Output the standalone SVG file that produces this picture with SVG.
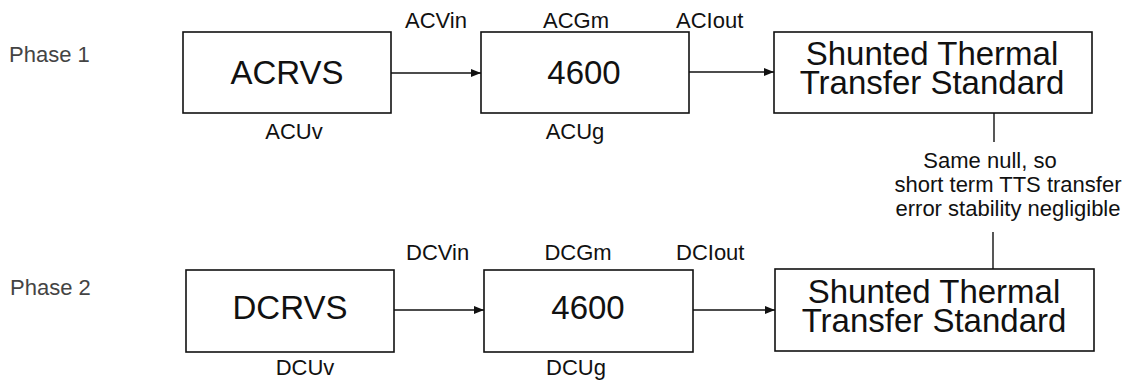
<svg xmlns="http://www.w3.org/2000/svg" width="1127" height="380" viewBox="0 0 1127 380">
<style>
  .box{fill:#fff;stroke:#111;stroke-width:1.6}
  .main{font-family:"Liberation Sans",Arial,sans-serif;font-size:33px;fill:#111;text-anchor:middle}
  .lbl{font-family:"Liberation Sans",Arial,sans-serif;font-size:22px;fill:#111}
  .mid{text-anchor:middle}
  .phase{font-family:"Liberation Sans",Arial,sans-serif;font-size:22px;fill:#444}
  .wire{stroke:#111;stroke-width:1.4;fill:none}
</style>
<defs>
  <marker id="ah" viewBox="0 0 10 8" refX="10" refY="4" markerWidth="10" markerHeight="8" markerUnits="userSpaceOnUse" orient="auto">
    <path d="M0,0 L10,4 L0,8 Z" fill="#111"/>
  </marker>
</defs>
<rect width="1127" height="380" fill="#fff"/>

<text class="phase" x="9" y="62">Phase 1</text>
<text class="phase" x="10" y="295">Phase 2</text>

<g id="acrvs">
  <rect class="box" x="183" y="32" width="208" height="81"/>
  <text class="main" x="287" y="84">ACRVS</text>
  <text class="lbl mid" x="294" y="139">ACUv</text>
</g>
<g id="ac4600">
  <rect class="box" x="481" y="32" width="208" height="81"/>
  <text class="main" x="584" y="84">4600</text>
  <text class="lbl mid" x="576" y="28">ACGm</text>
  <text class="lbl mid" x="575" y="139">ACUg</text>
</g>
<g id="actts">
  <rect class="box" x="774" y="32" width="318" height="81"/>
  <text class="main" x="932" y="65">Shunted Thermal</text>
  <text class="main" x="932" y="94">Transfer Standard</text>
</g>

<g id="dcrvs">
  <rect class="box" x="186" y="270" width="208" height="82"/>
  <text class="main" x="290" y="319">DCRVS</text>
  <text class="lbl mid" x="305" y="375">DCUv</text>
</g>
<g id="dc4600">
  <rect class="box" x="484" y="270" width="209" height="82"/>
  <text class="main" x="588" y="319">4600</text>
  <text class="lbl mid" x="578" y="260">DCGm</text>
  <text class="lbl mid" x="576" y="375">DCUg</text>
</g>
<g id="dctts">
  <rect class="box" x="775" y="269" width="319" height="82"/>
  <text class="main" x="934" y="303">Shunted Thermal</text>
  <text class="main" x="934" y="332">Transfer Standard</text>
</g>

<g id="note">
  <text class="lbl mid" x="990" y="168">Same null, so</text>
  <text class="lbl mid" x="1008" y="192">short term TTS transfer</text>
  <text class="lbl mid" x="1008" y="216">error stability negligible</text>
</g>

<g id="connectors">
  <line class="wire" x1="391" y1="73" x2="481" y2="73" marker-end="url(#ah)"/>
  <text class="lbl" x="405" y="28">ACVin</text>
  <line class="wire" x1="689" y1="72" x2="774" y2="72" marker-end="url(#ah)"/>
  <text class="lbl" x="676" y="28">ACIout</text>
  <line class="wire" x1="394" y1="310" x2="484" y2="310" marker-end="url(#ah)"/>
  <text class="lbl" x="406" y="260">DCVin</text>
  <line class="wire" x1="693" y1="310" x2="775" y2="310" marker-end="url(#ah)"/>
  <text class="lbl" x="676" y="260">DCIout</text>
  <line class="wire" x1="994" y1="113" x2="994" y2="142"/>
  <line class="wire" x1="993" y1="232" x2="993" y2="269"/>
</g>
</svg>
